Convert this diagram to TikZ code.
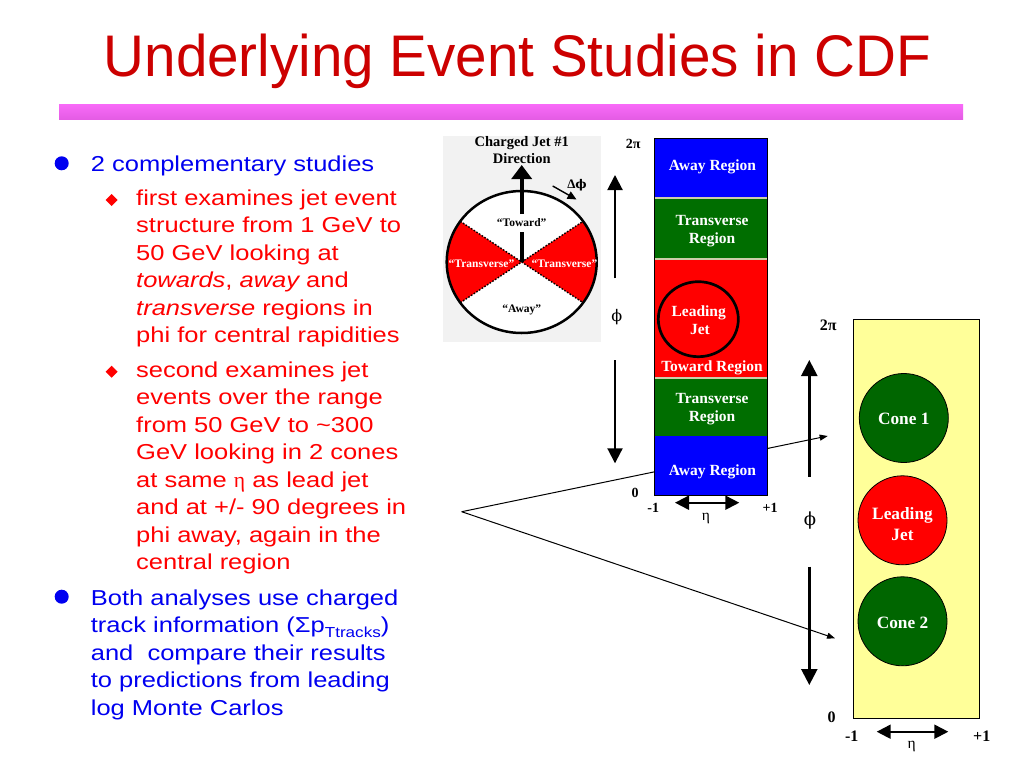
\documentclass[tikz,border=0pt]{standalone}
\usepackage{fontspec}
\usetikzlibrary{arrows.meta,shapes.geometric}
\setmainfont{Liberation Sans}
\newfontfamily\titlefont[FakeStretch=0.964]{Liberation Sans}
\newfontfamily\bodyfont[FakeStretch=1.18]{Liberation Sans}
\newfontfamily\lblfont{Liberation Serif}
\newfontfamily\phifont{DejaVu Serif}
\definecolor{titlered}{RGB}{204,0,0}
\definecolor{bodyblue}{RGB}{0,0,240}
\definecolor{bodyred}{RGB}{255,0,0}
\definecolor{barpinkT}{RGB}{248,106,248}
\definecolor{barpinkB}{RGB}{228,92,228}
\definecolor{regblue}{RGB}{0,0,255}
\definecolor{reggreen}{RGB}{0,110,0}
\definecolor{regred}{RGB}{255,0,0}
\definecolor{sepcol}{RGB}{205,205,170}
\definecolor{paneyellow}{RGB}{255,255,153}
\definecolor{conegreen}{RGB}{0,102,0}
\definecolor{imgbg}{RGB}{242,242,242}
\begin{document}
\begin{tikzpicture}[x=1pt,y=-1pt,
  bodyA/.style={anchor=base west,inner sep=0,text=bodyblue,font=\bodyfont\fontsize{21.6}{26}\selectfont},
  bodyB/.style={anchor=base west,inner sep=0,text=bodyred,font=\bodyfont\fontsize{21.6}{26}\selectfont},
  imglbl/.style={anchor=base,inner sep=0,font=\lblfont\bfseries\fontsize{14.5}{15}\selectfont},
  sectlbl/.style={anchor=base,inner sep=0,font=\lblfont\bfseries\fontsize{11.5}{12}\selectfont},
  regtxt/.style={anchor=base,inner sep=0,text=white,font=\lblfont\bfseries\fontsize{15.5}{17}\selectfont},
  conetxt/.style={anchor=base,inner sep=0,text=white,font=\lblfont\bfseries\fontsize{17.3}{19}\selectfont},
  axlblS/.style={anchor=center,inner sep=0,font=\lblfont\bfseries\fontsize{14}{15}\selectfont},
  axlblL/.style={anchor=center,inner sep=0,font=\lblfont\bfseries\fontsize{16}{17}\selectfont},
  greekS/.style={anchor=center,inner sep=0,font=\phifont\fontsize{16}{18}\selectfont},
  greekL/.style={anchor=center,inner sep=0,font=\phifont\fontsize{18}{20}\selectfont},
  etaS/.style={anchor=center,inner sep=0,font=\lblfont\fontsize{15.5}{16}\selectfont},
  bigarrS/.style={line width=2pt,-{Triangle[length=15pt,width=15pt]}},
  bigarrL/.style={line width=2.4pt,-{Triangle[length=16pt,width=16pt]}},
  etaarr/.style={line width=2pt,{Triangle[length=14pt,width=14pt]}-{Triangle[length=14pt,width=14pt]}},
  thinarr/.style={line width=1pt,-{Triangle[length=8pt,width=6pt]}},
  conecirc/.style={circle,draw=black,line width=0.8pt,minimum size=89pt,inner sep=0}
]
\useasboundingbox (0,0) rectangle (1024,768);
\fill[white] (0,0) rectangle (1024,768);

% title and bar
\node[anchor=base west,inner sep=0,text=titlered,font=\titlefont\fontsize{58.7}{60}\selectfont] (title) at (103.5,77) {Underlying Event Studies in CDF};
\shade[top color=barpinkT,bottom color=barpinkB] (59,104) rectangle (963,119.3);

% bullets
\fill[bodyblue] (61.7,163.3) circle[radius=7pt];
\fill[bodyblue] (61.7,596.7) circle[radius=7pt];
\fill[bodyred] (105.7,200) -- (111.7,194) -- (117.7,200) -- (111.7,206) -- cycle;
\fill[bodyred] (105.7,371.7) -- (111.7,365.7) -- (117.7,371.7) -- (111.7,377.7) -- cycle;

% body text
\node[bodyA] (t1) at (90.7,171.7) {2 complementary studies};
\node[bodyB] (t2) at (136,205) {first examines jet event};
\node[bodyB] (t3) at (136,232.5) {structure from 1 GeV to};
\node[bodyB] (t4) at (136,260) {50 GeV looking at};
\node[bodyB] (t5) at (136,287.5) {\itshape towards\upshape, \itshape away\upshape{} and};
\node[bodyB] (t6) at (136,315) {\itshape transverse\upshape{} regions in};
\node[bodyB] (t7) at (136,342.5) {phi for central rapidities};
\node[bodyB] (t8) at (136,377.3) {second examines jet};
\node[bodyB] (t9) at (136,404.8) {events over the range};
\node[bodyB] (t10) at (136,432.3) {from 50 GeV to \textasciitilde300};
\node[bodyB] (t11) at (136,459.8) {GeV looking in 2 cones};
\node[bodyB] (t12) at (136,487.3) {at same {\lblfont η} as lead jet};
\node[bodyB] (t13) at (136,514.8) {and at +/- 90 degrees in};
\node[bodyB] (t14) at (136,542.3) {phi away, again in the};
\node[bodyB] (t15) at (136,569.8) {central region};
\node[bodyA] (t16) at (90.7,605) {Both analyses use charged};
\node[bodyA] (t17) at (90.7,632.5) {track information (Σp\raisebox{-4.5pt}{\fontsize{14.5}{15}\selectfont Ttracks})};
\node[bodyA] (t18) at (90.7,660) {and\ \ compare their results};
\node[bodyA] (t19) at (90.7,687.5) {to predictions from leading};
\node[bodyA] (t20) at (90.7,715) {log Monte Carlos};

% converging lines (behind column)
\coordinate (vtx) at (461.7,511.7);
\coordinate (c1tip) at (827.7,436);
\coordinate (c2tip) at (835,638.3);
\draw[thinarr] (vtx) -- (c1tip);
\draw[thinarr] (vtx) -- (c2tip);

% circle picture
\fill[imgbg] (443,136) rectangle (601,342);
\coordinate (cc) at (521.7,262);
\fill[white] (cc) ellipse[x radius=75pt,y radius=71pt];
\fill[regred] (cc) -- ++(145:75pt and 71pt) arc[start angle=145,end angle=215,x radius=75pt,y radius=71pt] -- cycle;
\fill[regred] (cc) -- ++(-35:75pt and 71pt) arc[start angle=-35,end angle=35,x radius=75pt,y radius=71pt] -- cycle;
\coordinate (ul) at (460.3,221.3);
\coordinate (lr) at (583.1,302.7);
\coordinate (ll) at (460.3,302.7);
\coordinate (ur) at (583.1,221.3);
\draw[line width=1.4pt,dash pattern=on 1.6pt off 1.6pt] (ul) -- (lr);
\draw[line width=1.4pt,dash pattern=on 1.6pt off 1.6pt] (ll) -- (ur);
\draw[line width=2.5pt] (cc) ellipse[x radius=75pt,y radius=71pt];
\node[imglbl] (cj1) at (521.7,146.7) {Charged Jet \#1};
\node[imglbl] (cj2) at (521.7,163) {Direction};
\coordinate (sh1a) at (521.7,262);
\coordinate (sh1b) at (521.7,232);
\coordinate (sh2a) at (521.7,214);
\coordinate (sh2b) at (521.7,165);
\draw[line width=4pt] (sh1a) -- (sh1b);
\draw[line width=4pt,-{Triangle[length=14pt,width=20pt]}] (sh2a) -- (sh2b);
\node[sectlbl] (tow) at (521.7,226) {“Toward”};
\node[sectlbl,text=white] (trl) at (481.5,267.7) {“Transverse”};
\node[sectlbl,text=white] (trr) at (564.5,267.7) {“Transverse”};
\node[sectlbl] (awy) at (521.7,312.7) {“Away”};
\node[anchor=base,inner sep=0,font=\lblfont\bfseries\fontsize{13}{14}\selectfont] (dphi) at (577,188) {Δ{\phifont\fontsize{12}{13}\selectfont ϕ}};
\coordinate (dpa) at (552.7,186);
\coordinate (dpb) at (576.5,199.5);
\draw[line width=1.4pt,-{Triangle[length=9pt,width=8pt]}] (dpa) -- (dpb);

% region column
\fill[sepcol] (654.3,138) rectangle (767,495);
\fill[regblue] (654.3,138) rectangle (767,196.5);
\fill[reggreen] (654.3,199) rectangle (767,257.5);
\fill[regred] (654.3,260) rectangle (767,377);
\fill[reggreen] (654.3,379) rectangle (767,436);
\fill[regblue] (654.3,436) rectangle (767,495);
\draw[line width=0.8pt] (654.3,138) rectangle (767,495);
\node[regtxt] (aw1) at (712.5,170.7) {Away Region};
\node[regtxt] (tr1a) at (712,225) {Transverse};
\node[regtxt] (tr1b) at (712,243.3) {Region};
\node[draw=black,line width=2.7pt,ellipse,minimum width=80pt,minimum height=75pt,inner sep=0] (ljc) at (698.3,319.2) {};
\node[regtxt] (lj1) at (698.7,316.7) {Leading};
\node[regtxt] (lj2) at (700,334) {Jet};
\node[regtxt] (towr) at (712,371.7) {Toward Region};
\node[regtxt] (tr2a) at (712,403.3) {Transverse};
\node[regtxt] (tr2b) at (712,421.7) {Region};
\node[regtxt] (aw2) at (712.5,475) {Away Region};

\node[axlblS] (tp1) at (633.3,144) {2π};
\node[axlblS] (z1) at (635,493.3) {0};
\node[axlblS] (m1) at (653.3,508.3) {-1};
\node[axlblS] (p1) at (770,508.3) {+1};
\node[etaS] (eta1) at (706,518.3) {η};
\node[greekS] (phi1) at (616.7,317) {ϕ};
\coordinate (phAup0) at (615,278.3);
\coordinate (phAup1) at (615,175);
\coordinate (phAdn0) at (615,360);
\coordinate (phAdn1) at (615,463.3);
\draw[bigarrS] (phAup0) -- (phAup1);
\draw[bigarrS] (phAdn0) -- (phAdn1);
\coordinate (etA0) at (675,502.7);
\coordinate (etA1) at (739.3,502.7);
\draw[etaarr] (etA0) -- (etA1);

% right panel
\draw[fill=paneyellow,line width=0.8pt] (853.3,319.3) rectangle (979.3,718.3);
\node[conecirc,fill=conegreen] (cone1) at (903.8,418) {};
\node[conecirc,fill=regred] (ljet) at (902.5,520.3) {};
\node[conecirc,fill=conegreen] (cone2) at (902.5,621.3) {};
\node[conetxt] (c1t) at (903.8,424.3) {Cone 1};
\node[conetxt] (lj3) at (902.5,519.3) {Leading};
\node[conetxt] (lj4) at (902.5,540) {Jet};
\node[conetxt] (c2t) at (902.5,628.3) {Cone 2};
\node[axlblL] (tp2) at (828.3,325.5) {2π};
\node[axlblL] (z2) at (831.7,717.3) {0};
\node[axlblL] (m2) at (851.7,736.7) {-1};
\node[axlblL] (p2) at (981.7,736.7) {+1};
\node[etaS] (eta2) at (911.7,746.7) {η};
\node[greekL] (phi2) at (810,520.7) {ϕ};
\coordinate (phBup0) at (809.3,476.7);
\coordinate (phBup1) at (809.3,360);
\coordinate (phBdn0) at (809.3,566.7);
\coordinate (phBdn1) at (809.3,685);
\draw[bigarrL] (phBup0) -- (phBup1);
\draw[bigarrL] (phBdn0) -- (phBdn1);
\coordinate (etB0) at (876.7,731.7);
\coordinate (etB1) at (948.3,731.7);
\draw[etaarr] (etB0) -- (etB1);
\end{tikzpicture}
\end{document}
